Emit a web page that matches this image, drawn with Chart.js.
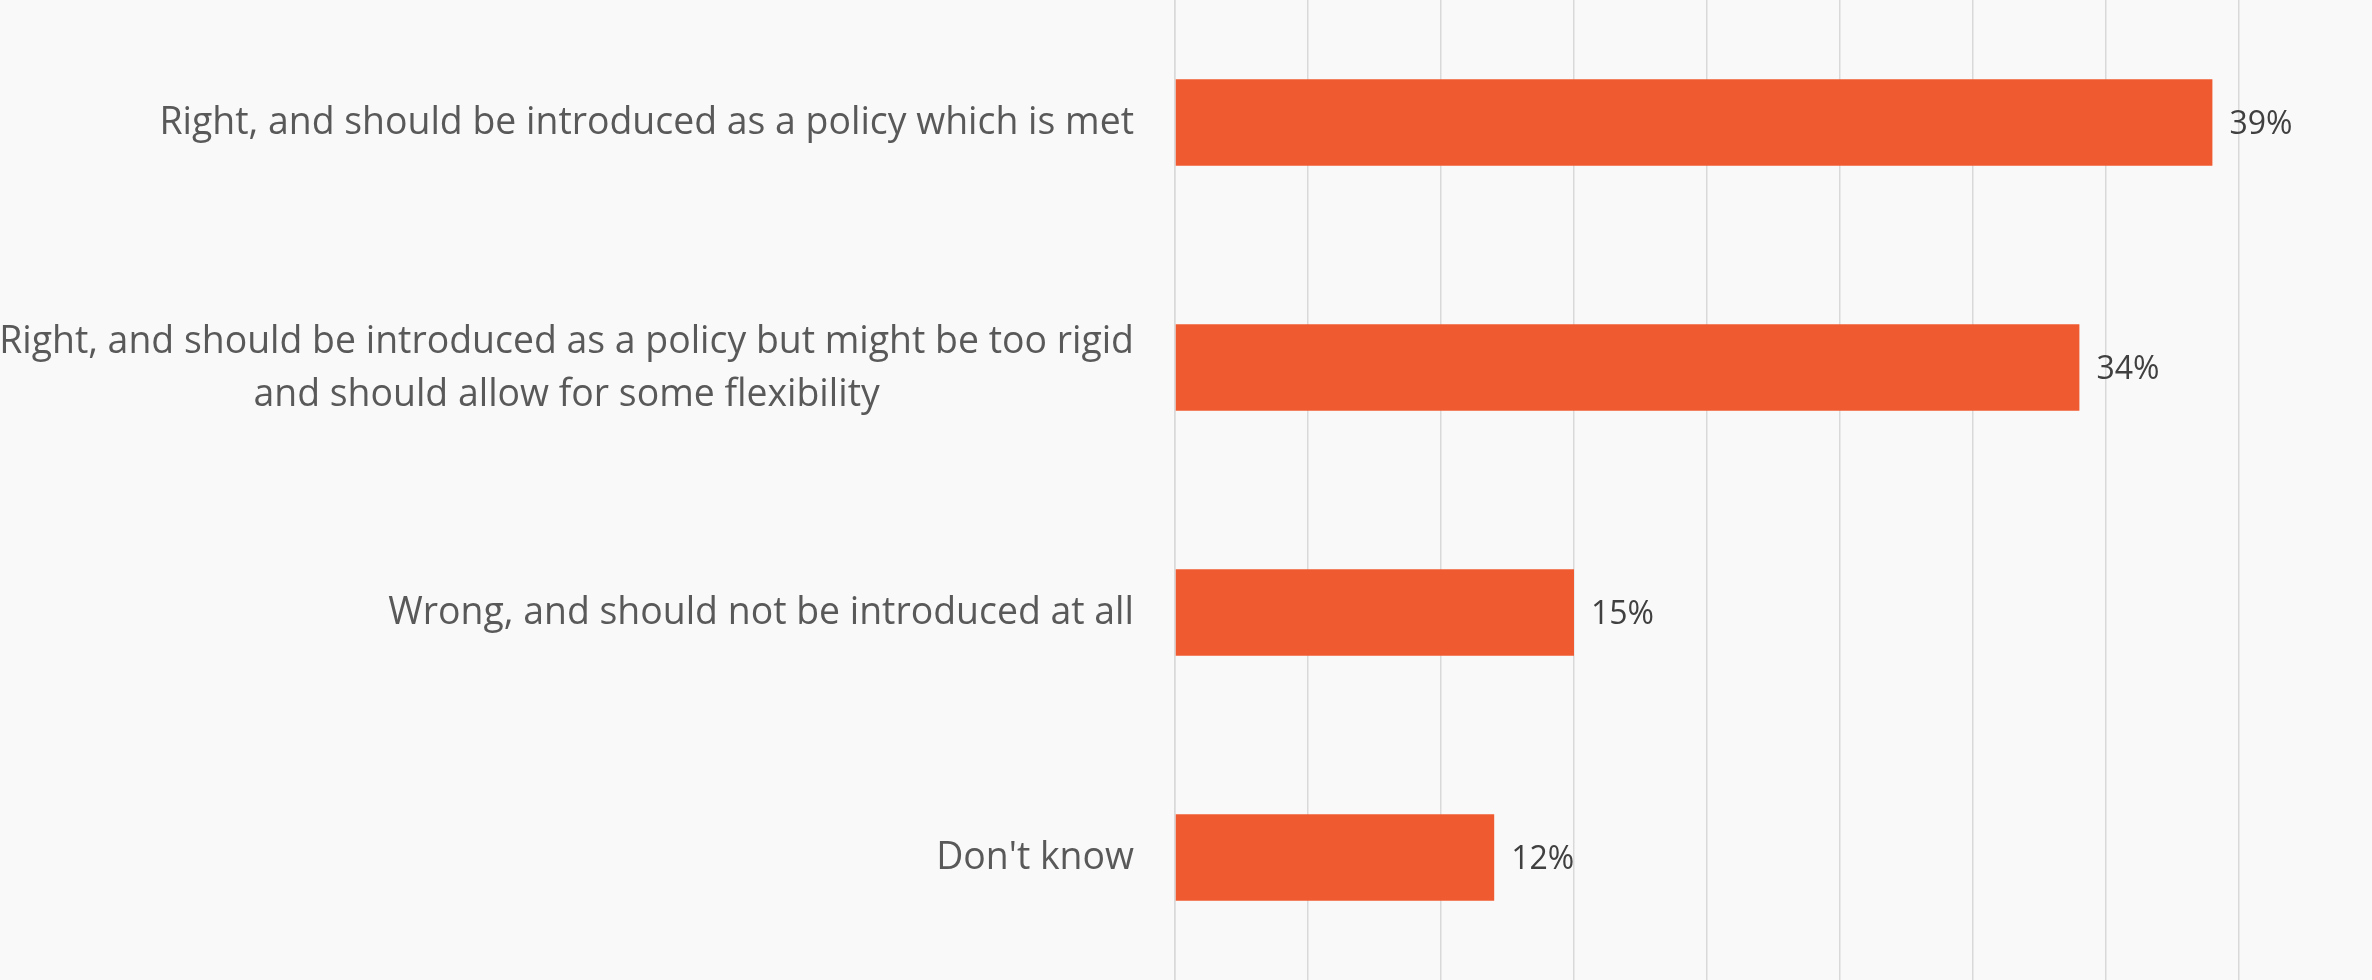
<!DOCTYPE html>
<html lang="en">
<head>
    <meta charset="UTF-8">
    <title>Policy opinion</title>
    <script src="https://cdn.jsdelivr.net/npm/chart.js@4.4.0/dist/chart.umd.min.js"></script>
    <style>
        html, body {
            margin: 0;
            padding: 0;
            overflow: hidden;
            background-color: #f9f9f9;
        }
        #wrap {
            position: relative;
            width: 2372px;
            height: 980px;
        }
    </style>
</head>
<body>
    <div id="wrap"><canvas id="chart"></canvas></div>

    <script>
        // Data
        const categories = [
            ['Right, and should be introduced as a policy which is met'],
            ['Right, and should be introduced as a policy but might be too rigid', 'and should allow for some flexibility'],
            ['Wrong, and should not be introduced at all'],
            ["Don't know"]
        ];
        const shares = [39, 34, 15, 12];
        const axisMin = 0;
        const axisMax = 45;
        const axisStep = 5;

        const gridColor = '#d9d9d9';

        // Wrapped labels: lines centred inside a block that is right-aligned to the axis
        const categoryLabels = {
            id: 'categoryLabels',
            afterDraw(chart) {
                const ctx = chart.ctx;
                const yScale = chart.scales.y;
                const right = chart.chartArea.left - 41;
                const lineHeight = 53;
                ctx.save();
                ctx.font = '37.4px "Open Sans"';
                ctx.fillStyle = '#595959';
                ctx.textAlign = 'center';
                ctx.textBaseline = 'middle';
                chart.data.labels.forEach(function(lines, i) {
                    const w = Math.max.apply(null, lines.map(l => ctx.measureText(l).width));
                    const cx = right - w / 2;
                    const cy = yScale.getPixelForTick(i) + 1;
                    lines.forEach(function(line, j) {
                        ctx.fillText(line, cx, cy + (j - (lines.length - 1) / 2) * lineHeight);
                    });
                });
                ctx.restore();
            }
        };

        // Percent labels at the end of each bar
        const valueLabels = {
            id: 'valueLabels',
            afterDatasetsDraw(chart) {
                const ctx = chart.ctx;
                const meta = chart.getDatasetMeta(0);
                ctx.save();
                ctx.font = '32px "Open Sans"';
                ctx.fillStyle = '#404040';
                ctx.textAlign = 'left';
                ctx.textBaseline = 'middle';
                meta.data.forEach(function(bar, i) {
                    ctx.fillText(chart.data.datasets[0].data[i] + '%', bar.x + 17, bar.y + 2);
                });
                ctx.restore();
            }
        };

        new Chart(document.getElementById('chart').getContext('2d'), {
            type: 'bar',
            data: {
                labels: categories,
                datasets: [{
                    data: shares,
                    backgroundColor: '#f05a30',
                    borderWidth: 0,
                    categoryPercentage: 1,
                    barPercentage: 0.353
                }]
            },
            options: {
                indexAxis: 'y',
                responsive: true,
                maintainAspectRatio: false,
                animation: false,
                layout: { padding: { left: 0, top: 0, bottom: 0, right: -2 } },
                plugins: {
                    legend: { display: false },
                    tooltip: { enabled: false }
                },
                scales: {
                    x: {
                        min: axisMin,
                        max: axisMax,
                        ticks: { stepSize: axisStep, display: false },
                        grid: {
                            color: ctx => (ctx.tick && ctx.tick.value === axisMax) ? 'rgba(0,0,0,0)' : gridColor,
                            lineWidth: 1.5,
                            drawTicks: false
                        },
                        border: { display: false },
                        afterFit: s => { s.height = 0; }
                    },
                    y: {
                        ticks: { display: false },
                        grid: { display: false, drawTicks: false },
                        border: { display: true, color: gridColor, width: 1.5 },
                        afterFit: s => { s.width = 1175; }
                    }
                }
            },
            plugins: [categoryLabels, valueLabels]
        });
    </script>
</body>
</html>
